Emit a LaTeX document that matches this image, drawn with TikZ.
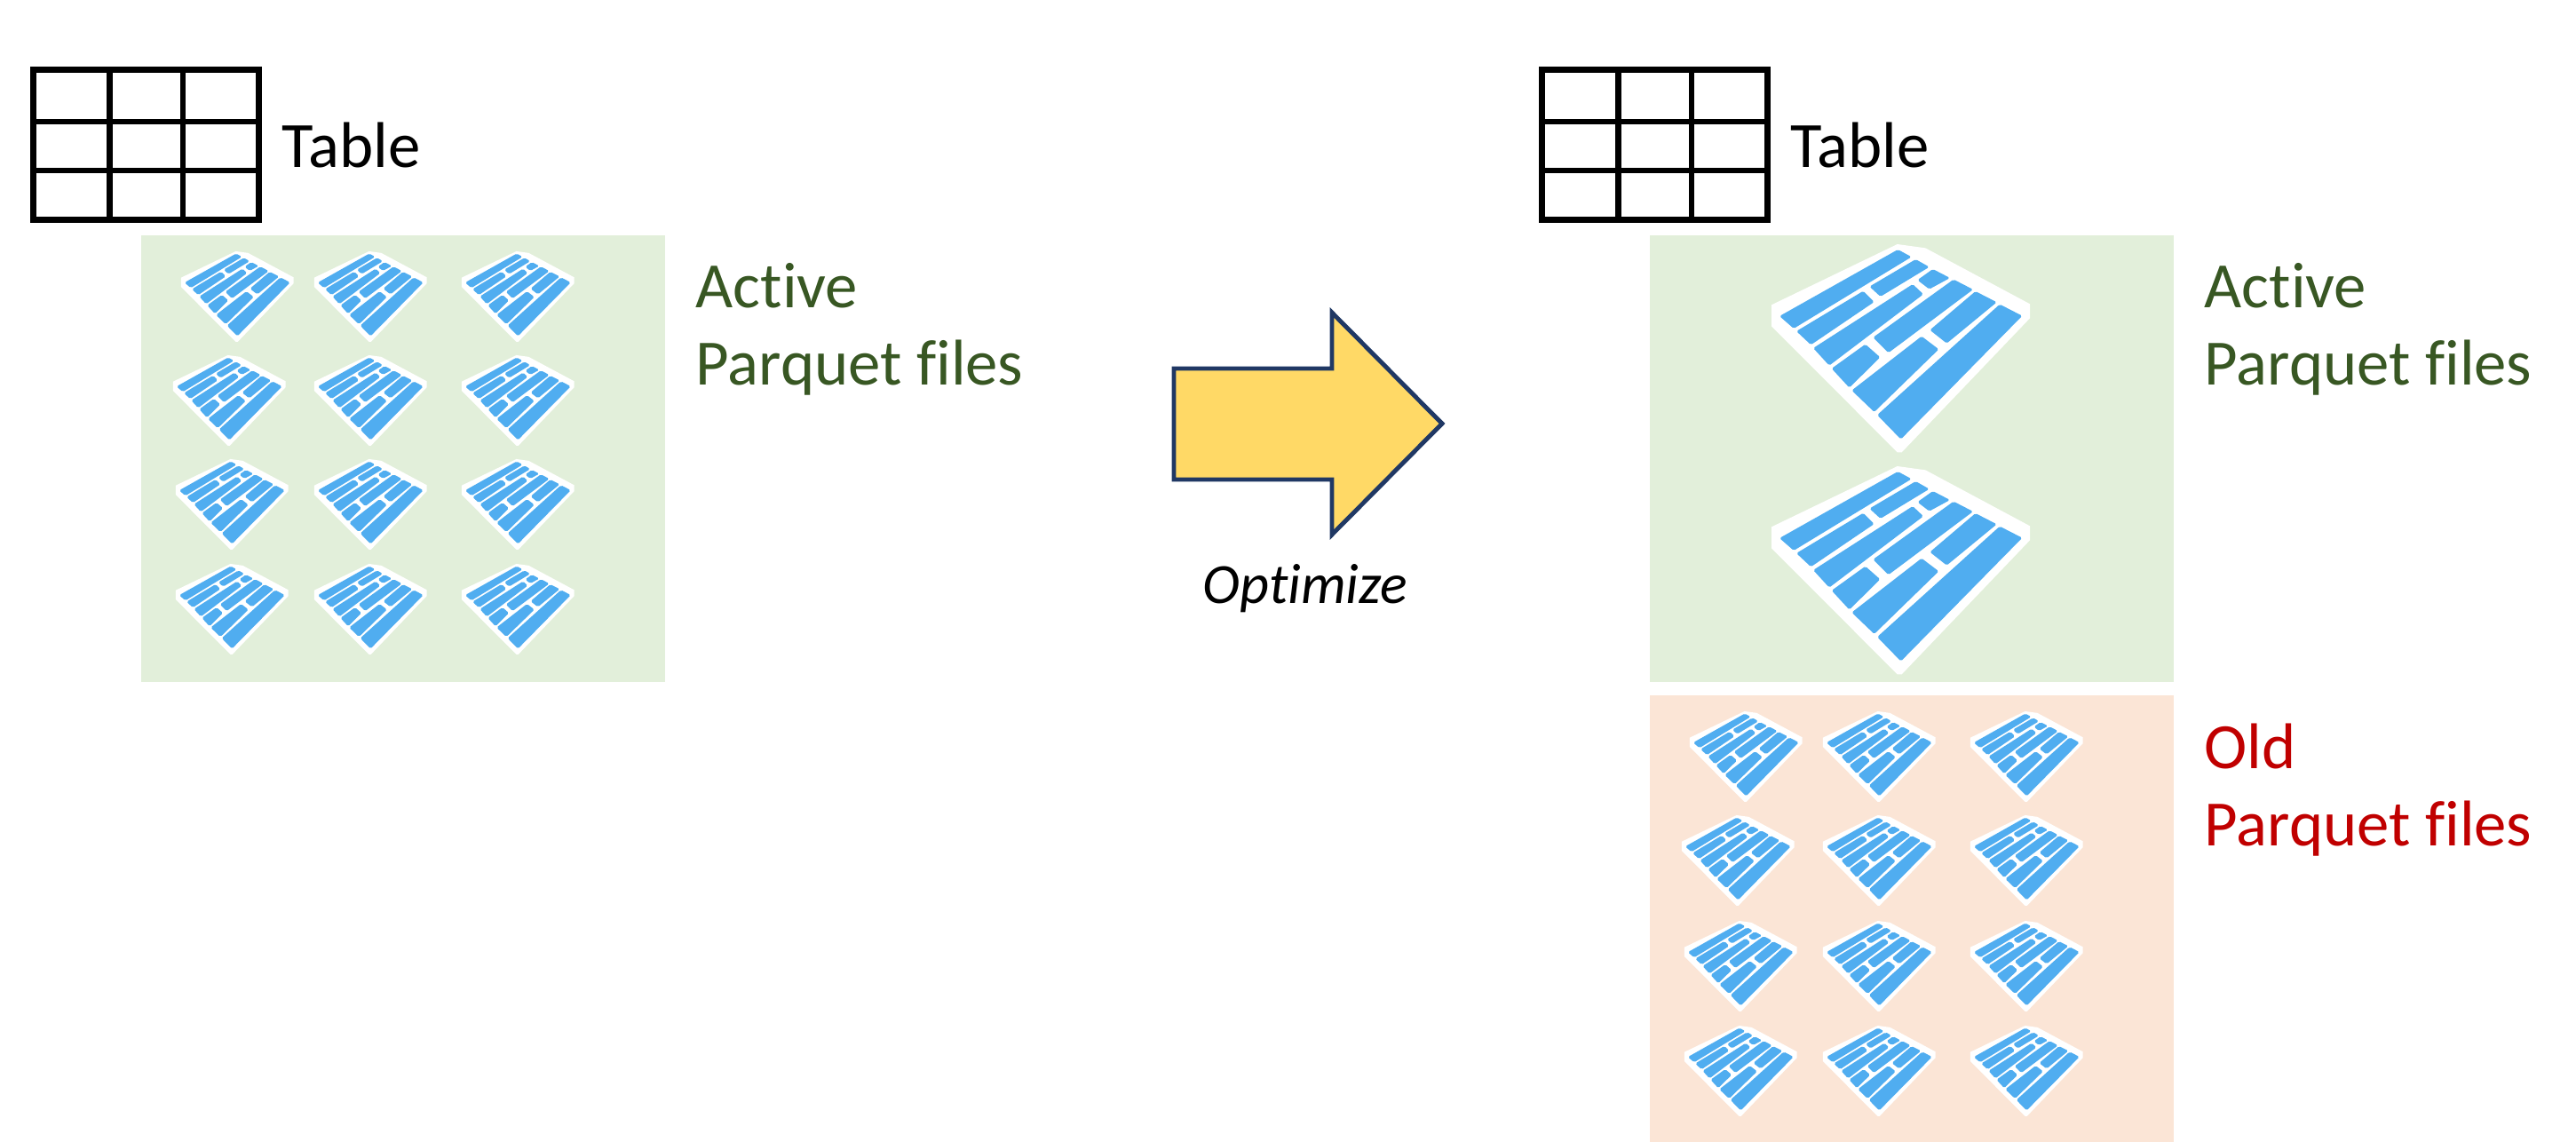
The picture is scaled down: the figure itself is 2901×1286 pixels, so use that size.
\documentclass[tikz,border=0pt]{standalone}
\usepackage{fontspec}
\setmainfont[Ligatures=NoCommon]{Carlito}
\definecolor{activefill}{HTML}{E2EFDA}
\definecolor{oldfill}{HTML}{FBE5D6}
\definecolor{activetext}{HTML}{385723}
\definecolor{oldtext}{HTML}{C00000}
\definecolor{boardblue}{HTML}{50ADF0}
\definecolor{arrowfill}{HTML}{FFD966}
\definecolor{arrowline}{HTML}{203864}
\tikzset{
	label/.style={anchor=north west,inner sep=0pt,font=\fontsize{20.7}{24.7}\selectfont,align=left},
	board/.style={fill=boardblue,rounded corners=0.5pt},
	small/.style={scale=0.145},
	large/.style={scale=0.3333},
	parquet/.pic={
		\begin{scope}[shift={(-570,-330)}]
			\fill [white] (135,190) -- (560,-15) -- (655,-2) -- (1008,187) -- (1008,235) -- (575,688) -- (560,688) -- (135,262) -- cycle;
			\path [board] (162,228) -- (562,3) -- (608,28) -- (210,270) -- cycle;
			\path [board] (219,279) -- (445,143) -- (482,180) -- (268,325) -- cycle;
			\path [board] (466,128) -- (622,36) -- (668,62) -- (503,162) -- cycle;
			\path [board] (276,336) -- (612,120) -- (648,154) -- (330,395) -- cycle;
			\path [board] (628,106) -- (680,69) -- (738,99) -- (668,137) -- cycle;
			\path [board] (338,405) -- (452,323) -- (502,367) -- (398,470) -- cycle;
			\path [board] (478,300) -- (750,104) -- (816,138) -- (530,352) -- cycle;
			\path [board] (406,479) -- (642,296) -- (700,340) -- (482,552) -- cycle;
			\path [board] (670,275) -- (824,144) -- (896,181) -- (727,320) -- cycle;
			\path [board] (492,562) -- (906,188) -- (982,227) -- (572,644) -- cycle;
		\end{scope}
	},
	tablegrid/.pic={
		\draw [line width=1.9pt] (0,0) rectangle (254,169);
		\draw [line width=1.9pt] (86,0) -- (86,169);
		\draw [line width=1.9pt] (168.5,0) -- (168.5,169);
		\draw [line width=1.9pt] (0,58.5) -- (254,58.5);
		\draw [line width=1.9pt] (0,113.5) -- (254,113.5);
	}
}

\begin{document}
\begin{tikzpicture}[x=0.01cm,y=-0.01cm]
	\useasboundingbox (0,0) rectangle (2901,1286);

	% before
	\pic at (37.5,78.5) {tablegrid};
	\node [label] (tableA) at (317,137) {Table};
	\fill [activefill] (159,265) rectangle (749,768);
	\pic [small] at (267,333) {parquet};
	\pic [small] at (417,333) {parquet};
	\pic [small] at (583,333) {parquet};
	\pic [small] at (258,450) {parquet};
	\pic [small] at (417,450) {parquet};
	\pic [small] at (583,450) {parquet};
	\pic [small] at (261,567) {parquet};
	\pic [small] at (417,567) {parquet};
	\pic [small] at (583,567) {parquet};
	\pic [small] at (261,685) {parquet};
	\pic [small] at (417,685) {parquet};
	\pic [small] at (583,685) {parquet};
	\node [label,text=activetext] (activeA) at (783,296) {Active\\Parquet files};

	% arrow
	\draw [fill=arrowfill,draw=arrowline,line width=1.4pt,miter limit=10] (1322,415) -- (1500,415) -- (1500,352) -- (1624,477) -- (1500,602) -- (1500,540) -- (1322,540) -- cycle;
	\node [anchor=base,inner sep=0pt,font=\fontsize{18.2}{21}\selectfont\itshape] (optimize) at (1470,680) {Optimize};

	% after
	\pic at (1736.5,78.5) {tablegrid};
	\node [label] (tableB) at (2016,137) {Table};
	\fill [activefill] (1858,265) rectangle (2448,768);
	\pic [large] at (2140,390) {parquet};
	\pic [large] at (2140,640) {parquet};
	\node [label,text=activetext] (activeB) at (2482,296) {Active\\Parquet files};

	\fill [oldfill] (1858,783) rectangle (2448,1286);
	\pic [small] at (1966,851) {parquet};
	\pic [small] at (2116,851) {parquet};
	\pic [small] at (2282,851) {parquet};
	\pic [small] at (1957,968) {parquet};
	\pic [small] at (2116,968) {parquet};
	\pic [small] at (2282,968) {parquet};
	\pic [small] at (1960,1087) {parquet};
	\pic [small] at (2116,1087) {parquet};
	\pic [small] at (2282,1087) {parquet};
	\pic [small] at (1960,1205) {parquet};
	\pic [small] at (2116,1205) {parquet};
	\pic [small] at (2282,1205) {parquet};
	\node [label,text=oldtext] (oldB) at (2482,814) {Old\\Parquet files};
\end{tikzpicture}
\end{document}
